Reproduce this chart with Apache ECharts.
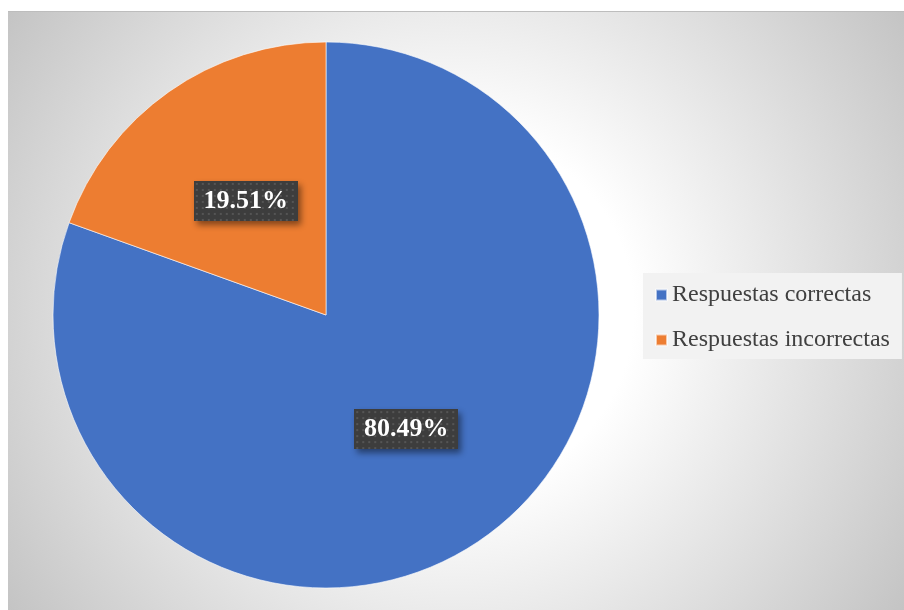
<!DOCTYPE html>
<html>
<head>
<meta charset="utf-8">
<script src="https://cdn.jsdelivr.net/npm/echarts@6/dist/echarts.min.js"></script>
<style>
html,body{margin:0;padding:0;background:#ffffff;width:904px;height:610px;overflow:hidden;}
#chart{position:absolute;left:8px;top:11px;width:896px;height:599px;border-top:1px solid #bdbdbd;box-sizing:border-box;}
</style>
</head>
<body>
<div id="chart"></div>
<script>
const categories = ['Respuestas correctas', 'Respuestas incorrectas'];
const percentages = [80.49, 19.51];
const colors = ['#4472C4', '#ED7D31'];

// dotted dark texture for the label boxes
function makeTexture(w, h) {
  const c = document.createElement('canvas');
  c.width = w; c.height = h;
  const ctx = c.getContext('2d');
  ctx.fillStyle = '#3d3d3d';
  ctx.fillRect(0, 0, w, h);
  ctx.fillStyle = '#555555';
  for (let y = 2; y < h; y += 6) {
    for (let x = 2; x < w; x += 6) {
      ctx.fillRect(x, y, 2, 2);
    }
  }
  return c;
}
const tex = makeTexture(104, 40);

const chart = echarts.init(document.getElementById('chart'), null, {renderer: 'canvas'});
const option = {
  backgroundColor: new echarts.graphic.RadialGradient(0.5, 0.5, 0.9, [
    {offset: 0, color: '#ffffff'},
    {offset: 0.33, color: '#ffffff'},
    {offset: 1, color: '#c4c4c4'}
  ]),
  animation: false,
  legend: {
    orient: 'vertical',
    left: 635,
    top: 261,
    backgroundColor: '#f2f2f2',
    padding: [10, 12, 7, 12],
    itemWidth: 11,
    itemHeight: 11,
    itemGap: 21,
    icon: 'rect',
    textStyle: {
      fontFamily: 'Liberation Serif',
      fontSize: 24,
      color: '#404040'
    },
    data: categories
  },
  series: [{
    type: 'pie',
    center: [318, 303],
    radius: [0, 273],
    startAngle: 90,
    clockwise: true,
    avoidLabelOverlap: false,
    itemStyle: {
      borderColor: 'rgba(255,255,255,0.6)',
      borderWidth: 1
    },
    label: {
      show: true,
      position: 'inside',
      formatter: function (p) { return p.value.toFixed(2) + '%'; },
      fontFamily: 'Liberation Serif',
      fontWeight: 'bold',
      fontSize: 26,
      color: '#ffffff',
      backgroundColor: {image: tex},
      width: 86,
      align: 'center',
      padding: [7, 9, 7, 9],
      shadowColor: 'rgba(0,0,0,0.45)',
      shadowBlur: 6,
      shadowOffsetX: 3,
      shadowOffsetY: 4
    },
    labelLine: {show: false},
    data: categories.map((name, i) => ({
      name: name,
      value: percentages[i],
      itemStyle: {color: colors[i]}
    }))
  }]
};
chart.setOption(option);
</script>
</body>
</html>
